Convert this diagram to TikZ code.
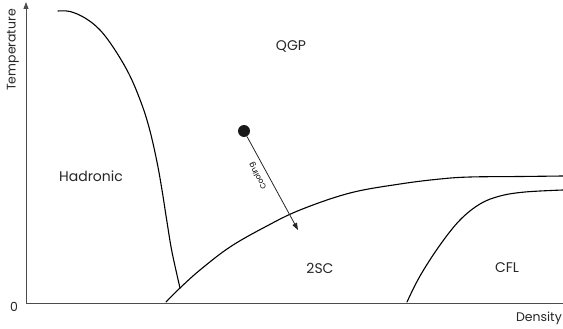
\documentclass[tikz,border=0pt]{standalone}
\usepackage{fontspec}
\setmainfont{Poppins}
\usetikzlibrary{arrows.meta}
\begin{document}
\begin{tikzpicture}[x=1pt,y=-1pt,
  axis/.style={draw=black!70, line width=0.9pt},
  phase/.style={draw=black, line width=1.1pt, line cap=round},
  lbl/.style={font=\fontsize{14}{16}\selectfont, text=black!85, inner sep=0pt},
  axlbl/.style={font=\fontsize{12.5}{14}\selectfont, text=black!85, inner sep=0pt}]
\useasboundingbox (0,0) rectangle (563,329);
% axes
\coordinate (O) at (26,303);
\coordinate (Ytop) at (26,2);
\coordinate (Xend) at (563,303);
\draw[axis, -{Triangle[length=7pt,width=5pt]}] (O) -- (Ytop);
\draw[axis] (O) -- (Xend);
% phase boundaries
\draw[phase] plot[smooth, tension=0.6] coordinates {(58,11) (70,11.5) (85,18) (100,30) (115,50) (130,76) (142,105) (150,131) (157,162) (162,190) (167,222) (172,252) (180,288)};
\draw[phase] plot[smooth, tension=0.6] coordinates {(166,302) (180,288) (200,270) (230,247) (265,227) (300,210) (350,193) (400,184) (440,179) (470,177) (520,176.5) (563,176)};
\draw[phase] plot[smooth, tension=0.6] coordinates {(407,302) (420,276) (440,245) (460,220) (480,204) (500,196) (525,192) (563,190)};
% state point and cooling path
\node[circle, fill=black!90, minimum size=12pt, inner sep=0pt] (dot) at (244,131) {};
\coordinate (end) at (298,230);
\draw[line width=0.8pt, black!85, -{Triangle[length=7pt,width=5pt]}] (dot) -- (end);
\node[font=\fontsize{7.5}{9}\selectfont, rotate=119, inner sep=0pt] (cool) at (258,176) {Cooling};
% labels
\node[lbl] (qgp) at (291,46) {QGP};
\node[lbl] (had) at (91,176) {Hadronic};
\node[lbl] (tsc) at (320,268) {2SC};
\node[lbl] (cfl) at (507,268) {CFL};
\node[axlbl] (zero) at (14,307) {0};
\node[axlbl, anchor=east] (dens) at (562,318) {Density};
\node[axlbl, rotate=90] (temp) at (13,50) {Temperature};
\end{tikzpicture}
\end{document}
